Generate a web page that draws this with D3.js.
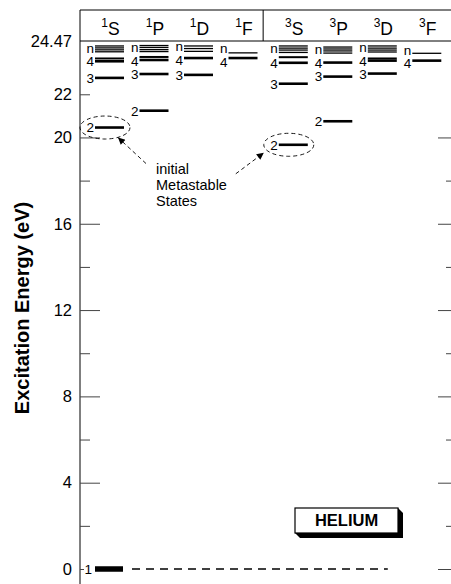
<!DOCTYPE html>
<html>
<head>
<meta charset="utf-8">
<script src="https://cdn.jsdelivr.net/npm/d3@7"></script>
<style>
  body { margin: 0; background: #fff; }
  svg { font-family: "Liberation Sans", Arial, Helvetica, sans-serif; }
</style>
</head>
<body>
<div id="chart"></div>
<script>
// term columns: multiplicity (superscript) and letter
const termMult = ["1", "1", "1", "1", "3", "3", "3", "3"];
const termLetter = ["S", "P", "D", "F", "S", "P", "D", "F"];

// levels [energy eV, label] and the crowded high-n band for every term
const s1Levels = [[20.46, "2"], [22.76, "3"], [23.53, "4"], [23.66, ""]];
const s1Band = [23.97, 24.06, 24.15, 24.24];
const p1Levels = [[21.24, "2"], [22.94, "3"], [23.59, "4"], [23.73, ""]];
const p1Band = [23.98, 24.07, 24.17, 24.26];
const d1Levels = [[22.90, "3"], [23.68, "4"]];
const d1Band = [23.99, 24.12, 24.24];
const f1Levels = [[23.68, "4"]];
const f1Band = [23.92];
const s3Levels = [[19.66, "2"], [22.49, "3"], [23.46, "4"], [23.72, ""]];
const s3Band = [23.94, 24.05, 24.14, 24.24];
const p3Levels = [[20.75, "2"], [22.82, "3"], [23.47, "4"]];
const p3Band = [23.91, 24.01, 24.10, 24.19];
const d3Levels = [[22.96, "3"], [23.56, "4"], [23.66, ""]];
const d3Band = [23.96, 24.05, 24.14, 24.24];
const f3Levels = [[23.56, "4"]];
const f3Band = [23.90];

const groundState = [0, "1"];
const metastable = [0, 4]; // columns holding the 2 metastable levels (1S, 3S)

const majorTicks = [0, 4, 8, 12, 16, 20];
const minorTicks = [2, 6, 10, 14, 18, 22];
const topTick = 24.47;
const noteLines = ["initial", "Metastable", "States"];

const termLevels = [s1Levels, p1Levels, d1Levels, f1Levels, s3Levels, p3Levels, d3Levels, f3Levels];
const termBands = [s1Band, p1Band, d1Band, f1Band, s3Band, p3Band, d3Band, f3Band];

let width = 451,
    height = 584;

let left = 80, right = 452, headTop = 10;
let lineLen = 29;
let labelGap = 13;

let svg = d3.select("#chart").append("svg")
  .attr("width", width)
  .attr("height", height);

let y = d3.scaleLinear()
  .domain([0, topTick])
  .range([569, 41]);

// column index with an extra gap between singlets and triplets
let colPos = termLetter.map((t, i) => i + (i >= 4 ? 0.13 : 0));
let x = d3.scaleLinear()
  .domain([0, 7.13])
  .range([95, 412.3]);

let defs = svg.append("defs");
defs.append("marker")
  .attr("id", "arrow")
  .attr("viewBox", "0 0 10 10")
  .attr("refX", 10).attr("refY", 5)
  .attr("markerWidth", 11).attr("markerHeight", 7)
  .attr("markerUnits", "userSpaceOnUse")
  .attr("orient", "auto")
  .append("path")
  .attr("d", "M0,0L10,5L0,10Z")
  .attr("fill", "#000");

// frame: left axis, right edge, header box
svg.append("line")
  .attr("x1", left).attr("x2", left)
  .attr("y1", headTop).attr("y2", height)
  .attr("stroke", "#000");
svg.append("line")
  .attr("x1", right).attr("x2", right)
  .attr("y1", headTop).attr("y2", height)
  .attr("stroke", "#000");
svg.append("line")
  .attr("x1", left).attr("x2", right)
  .attr("y1", headTop).attr("y2", headTop)
  .attr("stroke", "#000");
svg.append("line")
  .attr("x1", left).attr("x2", right)
  .attr("y1", y(topTick)).attr("y2", y(topTick))
  .attr("stroke", "#000");
let divX = (x(colPos[3]) + lineLen + x(colPos[4])) / 2 - 5;
svg.append("line")
  .attr("x1", divX).attr("x2", divX)
  .attr("y1", headTop).attr("y2", y(topTick))
  .attr("stroke", "#000");

// term labels
let heads = svg.append("g").selectAll("text")
  .data(termLetter)
  .enter().append("text")
  .attr("x", (d, i) => x(colPos[i]) + lineLen / 2 + 1)
  .attr("y", 35)
  .attr("text-anchor", "middle")
  .attr("font-size", 17.5);
heads.append("tspan")
  .attr("font-size", 12)
  .attr("dy", -8)
  .text((d, i) => termMult[i]);
heads.append("tspan")
  .attr("dy", 8)
  .text(d => d);

// left axis: major ticks with labels, minor ticks, top value
let axisL = svg.append("g").attr("transform", `translate(${left},0)`);
axisL.append("g")
  .call(d3.axisLeft(y).tickValues(majorTicks).tickSize(-20).tickPadding(8))
  .call(g => g.select(".domain").remove())
  .call(g => g.selectAll(".tick").filter(d => d === 0).select("line").attr("x2", 4));
axisL.append("g")
  .call(d3.axisLeft(y).tickValues(minorTicks).tickSize(-10).tickPadding(8)
    .tickFormat(d => d === 22 ? d : ""))
  .call(g => g.select(".domain").remove());
axisL.append("g")
  .call(d3.axisLeft(y).tickValues([topTick]).tickSize(0).tickPadding(8)
    .tickFormat(d3.format(".2f")))
  .call(g => g.select(".domain").remove());
axisL.selectAll("text")
  .attr("font-family", "Liberation Sans, Arial, sans-serif")
  .attr("font-size", 16.5)
  .attr("fill", "#000");
axisL.selectAll("line").attr("stroke", "#444");

// right edge ticks
let axisR = svg.append("g").attr("transform", `translate(${right},0)`);
axisR.append("g")
  .call(d3.axisRight(y).tickValues(majorTicks).tickSize(-14).tickFormat(""))
  .call(g => g.select(".domain").remove());
axisR.append("g")
  .call(d3.axisRight(y).tickValues(minorTicks.filter(d => d < 22)).tickSize(-6).tickFormat(""))
  .call(g => g.select(".domain").remove());
axisR.selectAll("line").attr("stroke", "#444");

// y title
svg.append("text")
  .attr("transform", "translate(29,308) rotate(-90)")
  .attr("text-anchor", "middle")
  .attr("font-size", 20)
  .attr("font-weight", "bold")
  .text("Excitation Energy (eV)");

// energy levels
let levels = svg.append("g");
termLevels.forEach((lv, i) => {
  let x0 = x(colPos[i]);
  let band = termBands[i];
  let g = levels.append("g");
  g.selectAll("line")
    .data(lv)
    .enter().append("line")
    .attr("x1", x0).attr("x2", x0 + lineLen)
    .attr("y1", d => y(d[0])).attr("y2", d => y(d[0]))
    .attr("stroke", "#000")
    .attr("stroke-width", d => d[1] ? 2.6 : 2);
  g.selectAll(".band")
    .data(band)
    .enter().append("line")
    .attr("class", "band")
    .attr("x1", x0).attr("x2", x0 + lineLen)
    .attr("y1", d => y(d)).attr("y2", d => y(d))
    .attr("stroke", "#000")
    .attr("stroke-width", 1.3);

  // labels: digits on their level, "n" on the band; push apart when crowded
  let labels = lv.filter(d => d[1]).map(d => ({ y: y(d[0]), text: d[1] }));
  labels.push({ y: y(d3.mean(band)), text: "n" });
  labels.sort((a, b) => a.y - b.y);
  for (let k = 1; k < labels.length; k++) {
    let a = labels[k - 1], b = labels[k];
    if (b.y - a.y < labelGap) {
      let mid = (a.y + b.y) / 2;
      a.y = mid - labelGap / 2;
      b.y = mid + labelGap / 2;
    }
  }
  g.selectAll("text")
    .data(labels)
    .enter().append("text")
    .attr("x", x0 - 1)
    .attr("y", d => d.y)
    .attr("dy", d => d.text === "n" ? "0.3em" : "0.36em")
    .attr("text-anchor", "end")
    .attr("font-size", 13.5)
    .text(d => d.text);
});

// ground state 1 1S and its dashed line across
let gx = x(colPos[0]);
levels.append("rect")
  .attr("x", gx).attr("y", y(groundState[0]) - 2.75)
  .attr("width", lineLen - 1).attr("height", 5.5)
  .attr("fill", "#000");
levels.append("text")
  .attr("x", gx - 3).attr("y", y(groundState[0]))
  .attr("dy", "0.36em")
  .attr("text-anchor", "end")
  .attr("font-size", 13.5)
  .text(groundState[1]);
levels.append("line")
  .attr("x1", gx + 37).attr("x2", x(colPos[6]) + 20)
  .attr("y1", y(groundState[0])).attr("y2", y(groundState[0]))
  .attr("stroke", "#000")
  .attr("stroke-width", 1.3)
  .attr("stroke-dasharray", "8,6");

// metastable ellipses, arrows and note
let ell = metastable.map(i => {
  let e = termLevels[i].find(d => d[1] === "2")[0];
  return { cx: x(colPos[i]) + 10, cy: y(e) };
});
svg.append("g").selectAll("ellipse")
  .data(ell)
  .enter().append("ellipse")
  .attr("cx", d => d.cx).attr("cy", d => d.cy)
  .attr("rx", 25).attr("ry", 11.5)
  .attr("fill", "none")
  .attr("stroke", "#000")
  .attr("stroke-width", 0.9)
  .attr("stroke-dasharray", "4,3");

let arrows = [
  { x1: ell[0].cx + 41, y1: ell[0].cy + 36, x2: ell[0].cx + 13, y2: ell[0].cy + 10 },
  { x1: ell[1].cx - 53, y1: ell[1].cy + 29, x2: ell[1].cx - 25, y2: ell[1].cy + 8 }
];
svg.append("g").selectAll("line")
  .data(arrows)
  .enter().append("line")
  .attr("x1", d => d.x1).attr("y1", d => d.y1)
  .attr("x2", d => d.x2).attr("y2", d => d.y2)
  .attr("stroke", "#000")
  .attr("stroke-width", 0.9)
  .attr("stroke-dasharray", "4,3")
  .attr("marker-end", "url(#arrow)");

svg.append("g").selectAll("text")
  .data(noteLines)
  .enter().append("text")
  .attr("x", ell[0].cx + 51)
  .attr("y", (d, i) => ell[0].cy + 46 + i * 16.3)
  .attr("font-size", 14.5)
  .text(d => d);

// HELIUM tag
let bx = 295, by = 508, bw = 103, bh = 25, sh = 5;
svg.append("path")
  .attr("d", `M${bx + bw},${by}L${bx + bw + sh},${by + sh}L${bx + bw + sh},${by + bh + sh}L${bx + sh},${by + bh + sh}L${bx},${by + bh}Z`)
  .attr("fill", "#000");
svg.append("rect")
  .attr("x", bx).attr("y", by)
  .attr("width", bw).attr("height", bh)
  .attr("fill", "#fff")
  .attr("stroke", "#000")
  .attr("stroke-width", 1.2);
svg.append("text")
  .attr("x", bx + bw / 2).attr("y", by + bh / 2)
  .attr("dy", "0.36em")
  .attr("text-anchor", "middle")
  .attr("font-size", 16.5)
  .attr("font-weight", "bold")
  .text("HELIUM");
</script>
</body>
</html>
